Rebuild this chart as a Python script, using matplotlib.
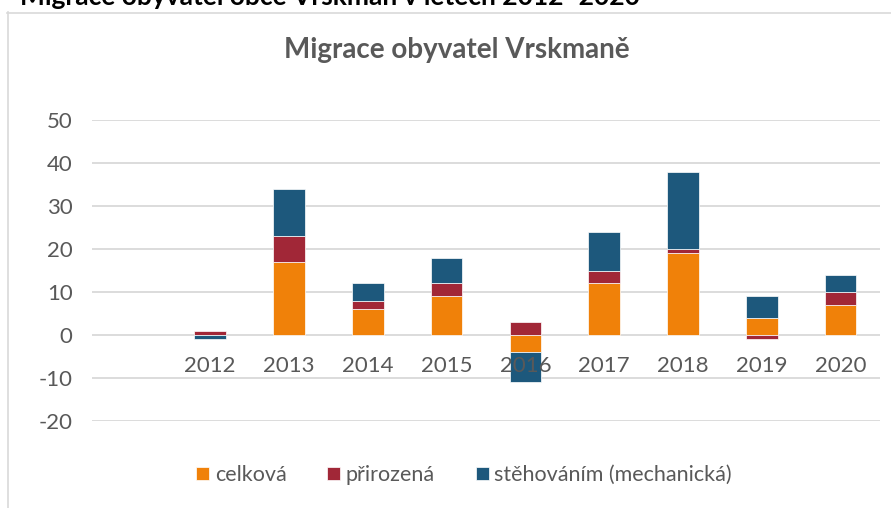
import numpy as np
import matplotlib.pyplot as plt

plt.rcParams['font.family'] = ['Lato', 'DejaVu Sans']
plt.rcParams['axes.unicode_minus'] = False

roky = ['2012', '2013', '2014', '2015', '2016', '2017', '2018', '2019', '2020']
celkova = [0, 17, 6, 9, -4, 12, 19, 4, 7]
prirozena = [1, 6, 2, 3, 3, 3, 1, -1, 3]
stehovani = [-1, 11, 4, 6, -7, 9, 18, 5, 4]

serie = [('celková', celkova, '#F08109'),
         ('přirozená', prirozena, '#A12737'),
         ('stěhováním (mechanická)', stehovani, '#1D587C')]

seda = '#595959'
mrizka = '#D9D9D9'

fig = plt.figure(figsize=(8.91, 5.08), dpi=100)
ax = fig.add_axes([92 / 891, 87 / 508, 788 / 891, 301 / 508])

# prvni kategorie je prazdna, roky zacinaji od x=1
x = np.arange(1, len(roky) + 1)
kladne = np.zeros(len(roky))
zaporne = np.zeros(len(roky))
for nazev, hodnoty, barva in serie:
    h = np.array(hodnoty, dtype=float)
    spodek = np.where(h >= 0, kladne, zaporne)
    ax.bar(x, h, width=0.4, bottom=spodek, color=barva, label=nazev,
           edgecolor='white', linewidth=0.5, zorder=3)
    kladne = np.where(h >= 0, kladne + h, kladne)
    zaporne = np.where(h < 0, zaporne + h, zaporne)

ax.set_xlim(-0.5, len(roky) + 0.5)
ax.set_ylim(-20, 50)
ax.set_yticks(np.arange(-20, 51, 10))
for y in np.arange(-20, 51, 10):
    ax.axhline(y, color=mrizka, linewidth=1.3, zorder=1)
ax.set_xticks([])
ax.tick_params(axis='y', length=0, pad=14, labelsize=16, labelcolor=seda)
for s in ax.spines.values():
    s.set_visible(False)

for xi, rok in zip(x, roky):
    ax.annotate(rok, (xi, 0), xytext=(0, -22), textcoords='offset points',
                ha='center', va='center', fontsize=16, color=seda, zorder=4)

fig.text(457 / 891, 1 - 50 / 508, 'Migrace obyvatel Vrskmaně', ha='center', va='center',
         fontsize=20, fontweight='bold', color=seda)

# nadpis nad grafem, oriznuty hornim okrajem
fig.text(20 / 891, 1 - 5 / 508, 'Migrace obyvatel obce Vrskmaň v letech 2012–2020',
         ha='left', va='baseline', fontsize=19, fontweight='bold', color='black')

# ramecek grafu
fig.add_artist(plt.Line2D([7.5 / 891, 7.5 / 891], [0, 1 - 12 / 508], color=mrizka,
                          linewidth=1.2, transform=fig.transFigure))
fig.add_artist(plt.Line2D([7 / 891, 1], [1 - 12.5 / 508, 1 - 12.5 / 508], color=mrizka,
                          linewidth=1.2, transform=fig.transFigure))

fig.legend(loc='center', bbox_to_anchor=(464 / 891, 1 - 475 / 508), ncol=3, frameon=False,
           fontsize=15.5, labelcolor=seda, handlelength=0.6, handleheight=0.6,
           handletextpad=0.25, columnspacing=1.9)

fig.savefig('out.png', dpi=100)
